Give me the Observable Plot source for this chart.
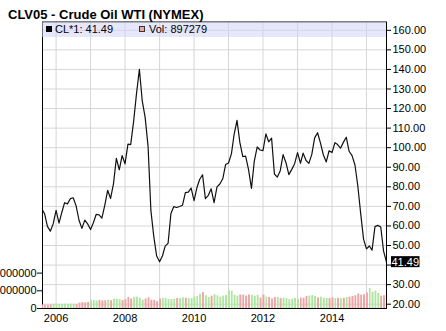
<!DOCTYPE html>
<html>
<head>
<meta charset="utf-8">
<script src="https://cdn.jsdelivr.net/npm/d3@7"></script>
<script src="https://cdn.jsdelivr.net/npm/@observablehq/plot@0.6"></script>
<style>
  html, body { margin: 0; padding: 0; background: #fff; }
  #wrap { position: relative; width: 446px; height: 331px; overflow: hidden; background: #fff;
          font-family: "Liberation Sans", Arial, sans-serif; }
  .layer { position: absolute; left: 0; top: 0; }
  #title { position: absolute; left: 8px; top: 7.5px; font-size: 13px; line-height: 13px; font-weight: bold; color: #000; white-space: nowrap; }
  #band { position: absolute; left: 42px; top: 21.5px; width: 344px; height: 15.5px; background: rgba(212,212,250,0.55); }
  .lg { position: absolute; font-size: 11px; line-height: 11px; color: #000; white-space: nowrap; }
  .sw { position: absolute; width: 6px; height: 6px; box-sizing: border-box; }
</style>
</head>
<body>
<div id="wrap">
  <div id="price" class="layer"></div>
  <div id="vol" class="layer"></div>
  <div id="last" class="layer"></div>
  <div id="band"></div>
  <div class="sw" style="left:46px;top:26px;background:#000;"></div>
  <div class="lg" id="lg1" style="left:55px;top:24px;"></div>
  <div class="sw" style="left:139px;top:26px;background:#eea4a4;border:1px solid #333;"></div>
  <div class="lg" id="lg2" style="left:149px;top:24px;"></div>
  <div id="title"></div>
</div>
<script>
// ---- data (monthly, Aug 2005 .. Aug 2015) ----
const titleText = "CLV05 - Crude Oil WTI (NYMEX)";
const firstMonth = [2005, 7]; // Aug 2005 (month index 0-based)
const prices = [
  68.94, 66.24, 59.76, 57.32, 61.04,
  67.92, 61.41, 66.63, 71.88, 71.29, 73.93, 74.40, 70.26, 62.91, 58.73, 62.97, 61.05,
  58.14, 61.79, 65.87, 65.71, 64.01, 70.68, 78.21, 74.04, 81.66, 94.53, 88.71, 95.98,
  91.75, 101.84, 101.58, 113.46, 127.35, 140.00, 124.08, 115.46, 100.64, 67.81, 54.43, 44.60,
  41.68, 44.76, 49.66, 51.12, 66.31, 69.89, 69.45, 69.96, 70.61, 77.00, 77.28, 79.36,
  72.89, 79.66, 83.76, 86.15, 73.97, 75.63, 78.95, 71.92, 79.97, 81.43, 84.11, 91.38,
  92.19, 96.97, 106.72, 113.93, 102.70, 95.42, 95.70, 88.81, 79.20, 93.19, 100.36, 98.83,
  98.48, 107.07, 103.02, 104.87, 86.53, 84.96, 88.06, 96.47, 92.19, 86.24, 88.91, 91.82,
  97.49, 92.05, 97.23, 93.46, 91.97, 96.56, 105.03, 107.65, 102.33, 96.38, 92.72, 98.42,
  97.49, 102.59, 101.58, 99.74, 102.71, 105.37, 98.17, 95.96, 91.16, 80.54, 66.15, 53.27,
  48.24, 49.76, 47.60, 59.63, 60.30, 59.47, 47.12, 41.49
];
// volume in thousands
const volumes = [
  200, 190, 190, 200, 230,
  240, 230, 230, 240, 230, 240, 230, 220, 300, 330, 320, 350,
  470, 450, 420, 460, 430, 440, 470, 440, 520, 520, 510, 450,
  500, 630, 540, 620, 640, 580, 470, 540, 600, 470, 460, 390,
  540, 580, 560, 510, 500, 520, 560, 560, 600, 580, 560, 560,
  650, 700, 800, 900, 720, 620, 700, 780, 720, 640, 700, 740,
  1000, 980, 750, 700, 760, 760, 700, 770, 740, 690, 740, 590,
  760, 640, 620, 540, 620, 620, 560, 590, 560, 500, 520, 570,
  530, 600, 580, 680, 700, 730, 680, 600, 640, 580, 560, 560,
  600, 560, 580, 560, 580, 620, 640, 680, 720, 820, 760, 780,
  880, 1130, 920, 980, 850, 700, 720, 650
];
// u = up (green), d = down (red), one per month
const dirs = [
  "ddddu",
  "uuuuuuuddddd",
  "uuuddduduuud",
  "ddduuuuddddd",
  "duuuuuduuduu",
  "uuuduuduuuuu",
  "uuuudddduuud",
  "duddduduuuuu",
  "uddduuuduuud",
  "dudududddddd",
  "duuuuddd"
].join("").split("");
const priceTicks = d3.range(20, 161, 10);
const gridYears = d3.range(2006, 2016).map(y => new Date(Date.UTC(y, 0, 1)));
const labelYears = [2006, 2008, 2010, 2012, 2014].map(y => new Date(Date.UTC(y, 0, 1)));
const legendPrice = "CL*1: 41.49";
const legendVol = "Vol: 897279";

// ---- build rows ----
const rows = prices.map((p, i) => ({
  date: new Date(Date.UTC(firstMonth[0], firstMonth[1] + i, 1)),
  price: p,
  vol: volumes[i] * 1000,
  dir: dirs[i] || "d"
}));
const lastPrice = prices[prices.length - 1];

const xDomain = [new Date(Date.UTC(2005, 7, 10)), new Date(Date.UTC(2015, 7, 1))];
const yDomain = [17.80, 164.24];
const common = {
  width: 446, height: 331,
  marginLeft: 42, marginRight: 60, marginTop: 21.5, marginBottom: 23,
  style: { fontFamily: "'Liberation Sans', Arial, sans-serif", fontSize: "11px", color: "#000", background: "transparent", overflow: "visible" }
};

const fmt2 = d3.format(".2f");
// the tick label hidden behind the last-value tag is left blank
const priceTickFormat = d => Math.abs(d - lastPrice) < 5 ? "" : fmt2(d);

const lastLabel = (index, scales, values, dims) => {
  const y = scales.y(lastPrice);
  const x0 = dims.width - dims.marginRight;
  const g = d3.create("svg:g");
  g.append("rect").attr("x", x0 + 5).attr("y", y - 5.5).attr("width", 28.5).attr("height", 11).attr("fill", "#000");
  g.append("text").attr("x", x0 + 5.5).attr("y", y).attr("dy", "0.35em")
    .attr("text-anchor", "start").attr("fill", "#fff").attr("font-size", 11).text(fmt2(lastPrice));
  return g.node();
};

const pricePlot = Plot.plot({
  ...common,
  x: { type: "utc", domain: xDomain, ticks: labelYears, tickFormat: d3.utcFormat("%Y"), tickSize: 0, tickPadding: 6, label: null },
  y: { domain: yDomain, axis: "right", ticks: priceTicks, tickFormat: priceTickFormat, tickSize: 4, tickPadding: 2, label: null },
  marks: [
    Plot.ruleX(gridYears, { stroke: "#d6d6d6", strokeWidth: 1 }),
    Plot.ruleY(priceTicks, { stroke: "#d6d6d6", strokeWidth: 1 }),
    Plot.line(rows, { x: "date", y: "price", stroke: "#111", strokeWidth: 1.2, clip: true }),
    Plot.frame({ stroke: "#000" })
  ]
});
document.getElementById("price").appendChild(pricePlot);

const volPlot = Plot.plot({
  ...common,
  x: { type: "utc", domain: xDomain, axis: null },
  y: { domain: [0, 16.19e6], axis: "left", ticks: [0, 1e6, 2e6], tickFormat: d => String(d), tickSize: 5, tickPadding: 1, label: null },
  marks: [
    Plot.rectY(rows, {
      x1: "date",
      x2: d => d3.utcMonth.offset(d.date, 1),
      y: "vol",
      fill: d => d.dir === "u" ? "#aee6a0" : "#eea4a4",
      insetRight: 1,
      clip: true
    })
  ]
});
document.getElementById("vol").appendChild(volPlot);

// last-value tag on top, using the same price scale
const lastPlot = Plot.plot({
  ...common,
  x: { type: "utc", domain: xDomain, axis: null },
  y: { domain: yDomain, axis: null },
  marks: [lastLabel]
});
document.getElementById("last").appendChild(lastPlot);

document.getElementById("title").textContent = titleText;
document.getElementById("lg1").textContent = legendPrice;
document.getElementById("lg2").textContent = legendVol;
</script>
</body>
</html>
